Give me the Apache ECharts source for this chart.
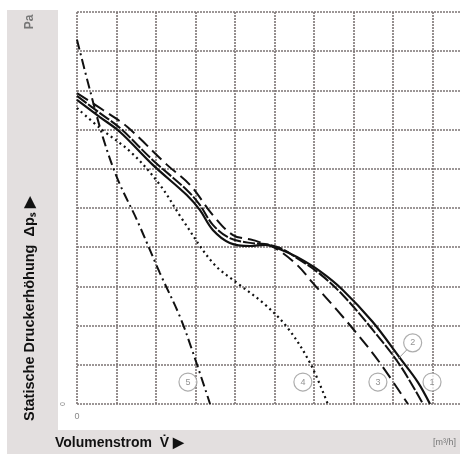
<!DOCTYPE html>
<html>
<head>
<meta charset="utf-8">
<script src="https://cdn.jsdelivr.net/npm/echarts@6/dist/echarts.min.js"></script>
<style>
html,body{margin:0;padding:0;background:#fff;}
#c{width:460px;height:454px;}
</style>
</head>
<body>
<div id="c"></div>
<script>
// Kennlinien (x = Volumenstrom in Rastereinheiten, y = statische Druckerhöhung in Rastereinheiten)
const curve1 = [[0,7.76],[0.58,7.32],[1.09,6.94],[1.92,6.10],[2.78,5.33],[3.11,4.95],[3.44,4.44],[3.87,4.11],[4.38,4.03],[4.76,4.06],[5.14,3.95],[5.57,3.75],[6.15,3.39],[6.73,2.91],[7.49,2.09],[8.18,1.17],[8.63,0.56],[8.94,0]];
const curve2 = [[0,7.86],[0.58,7.42],[1.09,7.04],[1.92,6.22],[2.78,5.46],[3.11,5.08],[3.44,4.57],[3.87,4.23],[4.38,4.11],[4.76,4.08],[5.14,3.98],[5.57,3.72],[6.15,3.32],[6.73,2.78],[7.49,1.89],[8.18,0.99],[8.76,0]];
const curve3 = [[0,7.93],[0.66,7.5],[1.27,7.07],[2.28,6.1],[2.86,5.59],[3.44,4.82],[3.95,4.31],[4.46,4.18],[5.01,3.98],[5.57,3.55],[5.97,3.09],[6.58,2.4],[7.16,1.71],[7.67,1.05],[8.38,0]];
const curve4 = [[0,7.55],[0.58,7.04],[1.39,6.4],[2.1,5.59],[2.68,4.69],[3.44,3.6],[4.05,3.09],[4.71,2.58],[5.32,1.96],[5.9,1.05],[6.35,0]];
const curve5 = [[0,9.29],[0.28,8.19],[0.66,6.79],[1.04,5.71],[1.52,4.69],[2.1,3.34],[2.61,2.22],[2.94,1.3],[3.37,0]];
const curveLabels = [[8.99,0.56,'1'],[8.5,1.56,'2'],[7.62,0.56,'3'],[5.72,0.56,'4'],[2.81,0.56,'5']];
const leader2 = [[8.35,1.38],[8.1,1.12]];
const xTickLabels = ['0'];
const yTickLabels = ['0'];

const chart = echarts.init(document.getElementById('c'));
const gridColor = '#7c7474';
function curve(data, type, w){
  return {type:'line', data:data, smooth:0.35, symbol:'none', silent:true,
    lineStyle:{color:'#111', width:w, type:type}, z:3};
}
chart.setOption({
  animation:false,
  backgroundColor:'#fff',
  graphic:[
    {type:'rect', shape:{x:7,y:10,width:51,height:444}, style:{fill:'#e3dfdf'}, z:-10},
    {type:'rect', shape:{x:7,y:430,width:460,height:24}, style:{fill:'#e3dfdf'}, z:-10},
    {type:'text', x:30, y:22, rotation:Math.PI/2, style:{text:'Pa', fill:'#777', font:'bold 12px "Liberation Sans"', align:'center', verticalAlign:'middle'}},
    {type:'text', x:30, y:421, rotation:Math.PI/2, style:{text:'Statische Druckerhöhung  Δpₛ ▶', fill:'#111', font:'bold 14.5px "Liberation Sans"', align:'left', verticalAlign:'middle'}},
    {type:'text', x:55, y:443, style:{text:'Volumenstrom  V̇ ▶', fill:'#111', font:'bold 14px "Liberation Sans"', align:'left', verticalAlign:'middle'}},
    {type:'text', x:433, y:443, style:{text:'[m³/h]', fill:'#777', font:'9px "Liberation Sans"', align:'left', verticalAlign:'middle'}}
  ],
  grid:{left:77, width:387, top:12, height:392, containLabel:false, outerBoundsMode:'none'},
  xAxis:{type:'value', min:0, max:9.8, interval:1,
    axisLine:{show:false}, axisTick:{show:false},
    splitLine:{show:true, lineStyle:{color:gridColor, width:1.6, type:[2,1]}},
    axisLabel:{show:true, color:'#888', fontSize:9, margin:8,
      formatter:function(v){return v===0 ? xTickLabels[0] : '';}}
  },
  yAxis:{type:'value', min:0, max:10, interval:1,
    axisLine:{show:false}, axisTick:{show:false},
    splitLine:{show:true, lineStyle:{color:gridColor, width:1.6, type:[2,1]}},
    axisLabel:{show:true, color:'#888', fontSize:7, rotate:90, margin:10,
      formatter:function(v){return v===0 ? yTickLabels[0] : '';}}
  },
  series:[
    curve(curve1, 'solid', 2.2),
    curve(curve2, [12,2], 2),
    curve(curve3, [13,6], 2),
    curve(curve4, [2,3.5], 2.2),
    curve(curve5, [10,4,2,4], 2),
    {type:'line', data:leader2, symbol:'none', silent:true, lineStyle:{color:'#999', width:1}, z:4},
    {type:'scatter', data:curveLabels, symbol:'circle', symbolSize:18, silent:true, z:5,
      itemStyle:{color:'#fff', borderColor:'#999', borderWidth:1.2},
      label:{show:true, position:'inside', formatter:function(p){return p.data[2];}, color:'#777', fontSize:9, fontFamily:'Liberation Sans'}
    }
  ]
});
</script>
</body>
</html>
